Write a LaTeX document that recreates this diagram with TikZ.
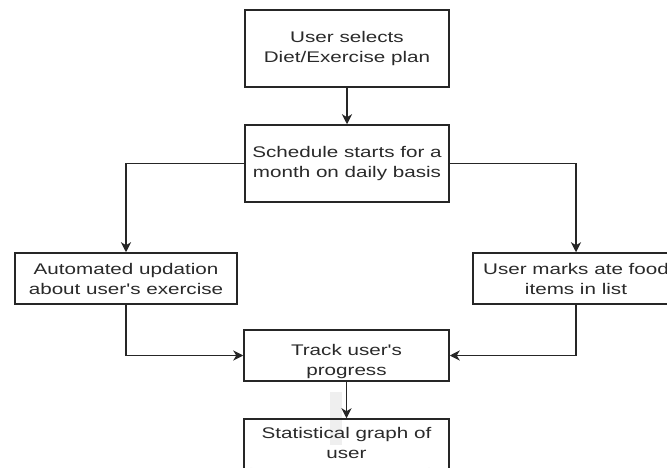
\documentclass[tikz,border=0pt]{standalone}
\usepackage{fontspec}
\newfontfamily\wide[FakeStretch=1.34]{Liberation Sans}
\usetikzlibrary{arrows.meta}
\definecolor{linec}{HTML}{262626}
\definecolor{textc}{HTML}{2A2A2A}
\definecolor{markc}{HTML}{E8E8E8}
\tikzset{
  box/.style={draw=linec, line width=1.5pt, inner sep=0pt, align=center,
    text=textc, font=\wide\fontsize{15.4}{20}\selectfont},
  txt/.style={inner sep=0pt, align=center, text=textc,
    font=\wide\fontsize{15.4}{20}\selectfont},
  flow/.style={draw=linec, line width=1.5pt,
    -{Stealth[length=10pt,width=10pt,inset=3pt]}},
}
\begin{document}
\begin{tikzpicture}[x=1pt,y=-1pt]
  \clip (0,0) rectangle (667,468);
  \fill[white] (0,0) rectangle (667,468);

  % faint seal behind the last step
  \fill[markc!70] (330,392) rectangle (342,445);
  \draw[markc, line width=6pt] (265,470) arc[start angle=180, end angle=0, radius=75];
  \draw[markc!80, line width=4pt] (250,468) arc[start angle=180, end angle=0, radius=90];

  % process boxes
  \node[box, minimum width=204, minimum height=77] (select) at (347,48.5)
    {User selects\\Diet/Exercise plan};
  \node[box, minimum width=204, minimum height=77] (schedule) at (347,163.5)
    {Schedule starts for a\\month on daily basis};
  \node[box, minimum width=222, minimum height=51] (auto) at (126,278.5)
    {Automated updation\\about user's exercise};
  \node[box, minimum width=206, minimum height=51] (marks) at (576,278.5)
    {User marks ate food\\items in list};
  \node[box, minimum width=205, minimum height=51] (track) at (346.5,355.5) {};
  \node[txt] (tracktext) at (346.5,362) {Track user's\\progress};
  \node[box, minimum width=205, minimum height=80] (stats) at (346.5,459) {};
  \node[txt] (statstext) at (346.5,443) {Statistical graph of\\user};

  % connectors
  \draw[flow] (select.south) -- (schedule.north);
  \draw[flow] (schedule.west) -| (auto.north);
  \draw[flow] (schedule.east) -| (marks.north);
  \draw[flow] (auto.south) |- (track.west);
  \draw[flow] (marks.south) |- (track.east);
  \draw[flow] (track.south) -- (stats.north);
\end{tikzpicture}
\end{document}
